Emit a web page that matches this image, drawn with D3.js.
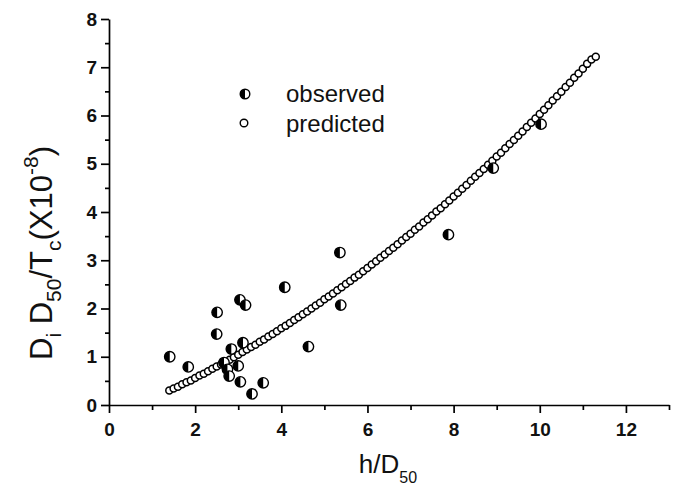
<!DOCTYPE html>
<html>
<head>
<meta charset="utf-8">
<script src="https://cdn.jsdelivr.net/npm/d3@7"></script>
<style>
  html, body { margin: 0; padding: 0; background: #fff; }
  svg { display: block; font-family: "Liberation Sans", Arial, Helvetica, sans-serif; }
</style>
</head>
<body>
<svg id="chart" width="678" height="487"></svg>
<script>
// ---- data ----
const observedX = [1.41, 1.84, 2.51, 2.50, 3.04, 3.17, 2.84, 3.11, 2.67, 2.75, 3.00, 2.79, 3.05, 3.58, 3.32, 4.08, 5.36, 5.38, 4.63, 7.88, 8.92, 10.03];
const observedY = [1.00, 0.79, 1.92, 1.47, 2.18, 2.07, 1.16, 1.29, 0.88, 0.74, 0.81, 0.60, 0.48, 0.46, 0.23, 2.44, 3.16, 2.07, 1.21, 3.53, 4.91, 5.82];

const predictedX = [1.4,1.5,1.6,1.7,1.8,1.9,2.0,2.1,2.2,2.3,2.4,2.5,2.6,2.7,2.8,2.9,3.0,3.1,3.2,3.3,3.4,3.5,3.6,3.7,3.8,3.9,
  4.0,4.1,4.2,4.3,4.4,4.5,4.6,4.7,4.8,4.9,5.0,5.1,5.2,5.3,5.4,5.5,5.6,5.7,5.8,5.9,6.0,6.1,6.2,6.3,6.4,6.5,6.6,6.7,6.8,6.9,
  7.0,7.1,7.2,7.3,7.4,7.5,7.6,7.7,7.8,7.9,8.0,8.1,8.2,8.3,8.4,8.5,8.6,8.7,8.8,8.9,9.0,9.1,9.2,9.3,9.4,9.5,9.6,9.7,9.8,9.9,
  10.0,10.1,10.2,10.3,10.4,10.5,10.6,10.7,10.8,10.9,11.0,11.1,11.2,11.3];
const predictedY = [0.30,0.34,0.38,0.43,0.47,0.51,0.56,0.61,0.65,0.70,0.75,0.80,0.84,0.89,0.94,0.99,1.04,1.10,1.15,1.20,1.25,1.31,1.36,1.42,1.47,1.53,
  1.59,1.64,1.70,1.76,1.82,1.88,1.94,2.00,2.06,2.12,2.19,2.25,2.31,2.38,2.44,2.51,2.57,2.64,2.70,2.77,2.84,2.91,2.98,3.05,3.12,3.19,3.26,3.33,3.41,3.48,
  3.55,3.63,3.70,3.78,3.85,3.93,4.01,4.08,4.16,4.24,4.32,4.40,4.48,4.56,4.65,4.73,4.81,4.89,4.98,5.06,5.15,5.23,5.32,5.41,5.49,5.58,5.67,5.76,5.85,5.94,
  6.03,6.12,6.21,6.31,6.40,6.49,6.59,6.68,6.78,6.87,6.97,7.07,7.16,7.22];

const xMajorTicks = [0, 2, 4, 6, 8, 10, 12];
const xMinorTicks = [1, 3, 5, 7, 9, 11, 13];
const yMajorTicks = [0, 1, 2, 3, 4, 5, 6, 7, 8];
const yMinorTicks = [0.5, 1.5, 2.5, 3.5, 4.5, 5.5, 6.5, 7.5];
const legendLabels = ["observed", "predicted"];

// ---- layout ----
const svg = d3.select("#chart");
const x = d3.scaleLinear().domain([0, 13]).range([109, 669]);
const y = d3.scaleLinear().domain([0, 8]).range([405, 19]);

// axes
const xAxis = svg.append("g").attr("transform", `translate(0,${y(0)})`)
  .call(d3.axisBottom(x).tickValues(xMajorTicks).tickSize(8).tickSizeOuter(0).tickPadding(10).tickFormat(d3.format("d")));
const xMinor = svg.append("g").attr("transform", `translate(0,${y(0)})`)
  .call(d3.axisBottom(x).tickValues(xMinorTicks).tickSize(5).tickSizeOuter(0).tickFormat(""));
const yAxis = svg.append("g").attr("transform", `translate(${x(0)},0)`)
  .call(d3.axisLeft(y).tickValues(yMajorTicks).tickSize(8).tickSizeOuter(0).tickPadding(4).tickFormat(d3.format("d")));
const yMinor = svg.append("g").attr("transform", `translate(${x(0)},0)`)
  .call(d3.axisLeft(y).tickValues(yMinorTicks).tickSize(4).tickSizeOuter(0).tickFormat(""));

svg.selectAll(".domain, .tick line").attr("stroke", "#000").attr("stroke-width", 1.7);
xMinor.select(".domain").remove();
yMinor.select(".domain").remove();
svg.selectAll(".tick text").attr("font-size", 19).attr("font-weight", "bold").attr("fill", "#111")
  .attr("font-family", "'Liberation Sans', Arial, sans-serif");

// axis titles
const xt = svg.append("text").attr("x", 388).attr("y", 473).attr("text-anchor", "middle")
  .attr("font-size", 26).attr("fill", "#111");
xt.append("tspan").text("h/D");
xt.append("tspan").attr("font-size", 16).attr("dy", 10).text("50");

const yt = svg.append("text").attr("transform", "translate(52,253) rotate(-90)")
  .attr("text-anchor", "middle").attr("font-size", 31).attr("fill", "#111");
yt.append("tspan").text("D");
yt.append("tspan").attr("font-size", 21).attr("dy", 9).text("i");
yt.append("tspan").attr("dy", -9).text(" D");
yt.append("tspan").attr("font-size", 21).attr("dy", 9).text("50");
yt.append("tspan").attr("dy", -9).text("/T");
yt.append("tspan").attr("font-size", 21).attr("dy", 9).text("c");
yt.append("tspan").attr("dy", -9).text("(X10");
yt.append("tspan").attr("font-size", 21).attr("dy", -14).text("-8");
yt.append("tspan").attr("dy", 14).text(")");

// markers
function halfFilled(sel, r) {
  sel.append("circle").attr("r", r).attr("fill", "#fff").attr("stroke", "#000").attr("stroke-width", 1.4);
  sel.append("path").attr("d", `M0,${-r}A${r},${r} 0 0 0 0,${r}Z`).attr("fill", "#000");
}

const predicted = predictedX.map((d, i) => ({ x: d, y: predictedY[i] }));
const observed = observedX.map((d, i) => ({ x: d, y: observedY[i] }));

svg.append("g").selectAll("circle").data(predicted).join("circle")
  .attr("cx", d => x(d.x)).attr("cy", d => y(d.y)).attr("r", 3.5)
  .attr("fill", "#fff").attr("stroke", "#000").attr("stroke-width", 1.5);

svg.append("g").selectAll("g").data(observed).join("g")
  .attr("transform", d => `translate(${x(d.x)},${y(d.y)})`)
  .each(function () { halfFilled(d3.select(this), 5.2); });

// legend
const lg = svg.append("g");
halfFilled(lg.append("g").attr("transform", "translate(245,94)"), 4.8);
lg.append("circle").attr("cx", 244).attr("cy", 123).attr("r", 3.8)
  .attr("fill", "#fff").attr("stroke", "#000").attr("stroke-width", 1.4);
lg.selectAll("text").data(legendLabels).join("text")
  .attr("x", 286).attr("y", (d, i) => 102 + i * 30)
  .attr("font-size", 24).attr("fill", "#111").text(d => d);
</script>
</body>
</html>
